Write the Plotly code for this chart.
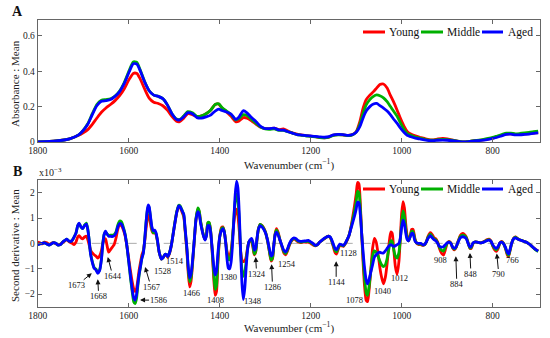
import plotly.graph_objects as go

# ---------------- Panel A data (absorbance, mean) ----------------
wnA = [1800,1760,1730,1710,1700,1690,1680,1670,1660,1650,
       1640,1630,1620,1610,1600,1590,1582,1575,1565,1555,
       1545,1535,1525,1515,1505,1495,1488,1480,1470,1460,
       1450,1440,1430,1420,1410,1402,1395,1385,1375,1365,
       1358,1348,1340,1330,1320,1310,1300,1290,1280,1270,
       1260,1250,1240,1230,1220,1210,1200,1190,1180,1170,
       1160,1150,1140,1130,1120,1110,1100,1092,1085,1078,
       1070,1062,1055,1048,1040,1032,1025,1018,1010,1003,
       995,988,980,970,960,950,940,930,920,910,
       900,890,880,870,860,850,840,830,820,810,
       800,790,780,770,760,750,740,730,720,710,700]

youngA = [0.000,0.006,0.018,0.038,0.052,0.070,0.100,0.135,0.168,0.192,
          0.212,0.234,0.262,0.300,0.350,0.388,0.387,0.358,0.300,0.248,
          0.225,0.218,0.205,0.180,0.145,0.118,0.115,0.132,0.160,0.155,
          0.143,0.148,0.160,0.180,0.212,0.214,0.192,0.170,0.145,0.115,
          0.118,0.138,0.135,0.120,0.100,0.083,0.076,0.076,0.078,0.070,
          0.074,0.062,0.052,0.044,0.040,0.036,0.033,0.030,0.026,0.024,
          0.028,0.039,0.042,0.041,0.037,0.040,0.058,0.115,0.190,0.240,
          0.265,0.285,0.305,0.325,0.328,0.305,0.265,0.228,0.180,0.135,
          0.090,0.060,0.045,0.035,0.027,0.020,0.013,0.012,0.017,0.020,
          0.018,0.012,0.006,0.002,0.001,0.004,0.007,0.009,0.012,0.016,
          0.022,0.030,0.038,0.045,0.046,0.042,0.043,0.045,0.047,0.050,0.053]

middleA = [0.000,0.006,0.018,0.040,0.066,0.103,0.160,0.212,0.236,0.240,
           0.244,0.260,0.288,0.335,0.398,0.453,0.450,0.410,0.342,0.290,
           0.265,0.258,0.245,0.210,0.160,0.130,0.127,0.145,0.172,0.165,
           0.145,0.148,0.160,0.180,0.212,0.216,0.195,0.175,0.155,0.125,
           0.132,0.155,0.150,0.128,0.105,0.085,0.074,0.072,0.075,0.066,
           0.066,0.058,0.050,0.042,0.038,0.034,0.032,0.029,0.025,0.023,
           0.027,0.038,0.041,0.040,0.036,0.039,0.056,0.100,0.160,0.210,
           0.240,0.258,0.266,0.262,0.250,0.228,0.202,0.175,0.145,0.110,
           0.072,0.048,0.038,0.028,0.022,0.016,0.011,0.010,0.013,0.015,
           0.013,0.010,0.006,0.002,0.001,0.004,0.008,0.011,0.015,0.020,
           0.026,0.034,0.042,0.050,0.050,0.046,0.048,0.051,0.054,0.058,0.062]

agedA = [0.000,0.006,0.018,0.040,0.065,0.100,0.155,0.205,0.230,0.234,
         0.240,0.258,0.285,0.330,0.390,0.443,0.440,0.405,0.340,0.290,
         0.265,0.258,0.245,0.210,0.160,0.128,0.125,0.140,0.166,0.160,
         0.138,0.135,0.142,0.152,0.175,0.186,0.178,0.170,0.158,0.128,
         0.140,0.177,0.165,0.138,0.115,0.088,0.076,0.076,0.078,0.068,
         0.067,0.058,0.050,0.042,0.039,0.036,0.034,0.032,0.029,0.027,
         0.030,0.040,0.043,0.042,0.038,0.040,0.055,0.087,0.135,0.175,
         0.200,0.215,0.218,0.206,0.192,0.175,0.155,0.130,0.105,0.080,
         0.055,0.038,0.030,0.022,0.017,0.012,0.008,0.008,0.010,0.011,
         0.010,0.008,0.005,0.001,0.000,0.003,0.006,0.008,0.011,0.015,
         0.020,0.027,0.035,0.043,0.044,0.040,0.041,0.043,0.045,0.049,0.052]

# ---------------- Panel B data (second derivative, x10^-3) ----------------
wnB = [1800,1795,1790,1785,1780,1775,1770,1765,1760,1755,
       1750,1745,1740,1736,1732,1728,1724,1720,1716,1712,
       1709,1705,1701,1697,1693,1690,1687,1684,1680,1676,
       1672,1668,1664,1660,1657,1654,1651,1648,1644,1640,
       1636,1632,1628,1624,1620,1616,1612,1608,1604,1600,
       1596,1592,1589,1586,1583,1580,1577,1574,1571,1568,
       1565,1562,1559,1557,1555,1552,1549,1546,1543,1540,
       1537,1533,1528,1524,1520,1517,1514,1510,1506,1502,
       1498,1494,1490,1487,1483,1479,1476,1472,1469,1466,
       1463,1460,1456,1452,1448,1445,1442,1438,1435,1432,
       1429,1426,1423,1420,1417,1413,1410,1407,1404,1400,
       1396,1393,1390,1387,1384,1381,1378,1375,1372,1369,
       1366,1363,1360,1357,1354,1351,1348,1345,1342,1339,
       1336,1333,1330,1327,1324,1321,1318,1315,1311,1307,
       1303,1299,1295,1291,1287,1284,1281,1278,1275,1271,
       1267,1263,1259,1255,1251,1247,1242,1237,1232,1227,
       1222,1216,1210,1205,1200,1195,1190,1185,1180,1175,
       1170,1165,1161,1157,1154,1150,1146,1143,1140,1136,
       1132,1128,1124,1120,1116,1112,1108,1104,1100,1097,
       1094,1091,1088,1085,1082,1078,1075,1072,1068,1064,
       1060,1056,1052,1048,1044,1040,1036,1032,1028,1024,
       1021,1018,1014,1010,1006,1003,1000,997,994,991,
       988,985,982,978,975,971,967,962,958,954,
       950,946,942,937,933,929,925,921,917,912,
       908,904,900,896,892,888,884,880,876,871,
       866,862,858,854,850,847,843,838,833,828,
       823,818,813,808,804,800,796,792,788,784,
       780,776,772,768,765,762,758,754,750,746,
       742,737,732,727,722,716,710,705,700]

youngB = [0.05,0.02,-0.02,0.05,0.02,-0.04,0.00,0.04,-0.02,-0.06,
          -0.04,0.04,0.10,0.15,0.08,0.03,0.00,-0.05,0.05,0.25,
          0.30,0.22,0.18,0.25,0.28,0.15,-0.05,-0.25,-0.38,-0.45,
          -0.50,-0.58,-0.50,-0.30,0.00,0.15,0.18,-0.05,-0.35,-0.25,
          -0.15,-0.05,0.20,0.55,0.72,0.70,0.55,0.30,-0.10,-0.60,
          -1.10,-1.55,-1.80,-1.90,-1.80,-1.45,-1.05,-0.75,-0.45,-0.30,
          0.05,0.55,1.00,1.12,1.05,0.75,0.50,0.40,0.45,0.35,
          0.10,-0.35,-0.62,-0.55,-0.45,-0.48,-0.55,-0.38,-0.05,0.40,
          0.85,1.25,1.45,1.42,1.25,1.05,0.50,-0.35,-1.20,-1.72,
          -1.50,-0.90,0.05,0.95,1.35,1.25,0.85,0.50,0.28,0.15,
          0.35,0.80,0.80,0.50,-0.20,-1.40,-2.05,-1.90,-0.80,0.25,
          0.62,0.65,0.48,0.10,-0.30,-0.48,-0.50,-0.30,0.20,0.80,
          1.20,1.35,1.10,0.50,-0.30,-0.65,-0.72,-0.70,-0.55,-0.20,
          0.05,0.10,0.05,-0.15,-0.45,-0.35,0.15,0.55,0.75,0.70,
          0.60,0.42,0.10,-0.30,-0.70,-0.62,-0.10,0.40,0.58,0.40,
          0.10,-0.15,-0.38,-0.45,-0.30,-0.08,0.10,0.18,0.12,0.05,
          0.03,0.05,0.04,0.05,0.00,-0.06,-0.10,-0.05,0.05,0.12,
          0.18,0.25,0.28,0.22,0.10,-0.15,-0.38,-0.42,-0.25,-0.08,
          -0.10,-0.12,-0.02,0.12,0.30,0.60,1.00,1.45,1.95,2.40,
          2.35,1.60,0.40,-0.70,-1.60,-2.25,-2.30,-1.90,-1.10,-0.20,
          0.20,0.05,-0.40,-0.95,-1.35,-1.60,-1.35,-0.80,-0.05,0.45,
          0.40,-0.10,-0.90,-1.22,-0.70,0.20,1.20,1.65,1.40,0.75,
          0.30,0.10,0.25,0.55,0.55,0.20,0.00,-0.05,-0.05,-0.08,
          -0.06,0.05,0.28,0.42,0.35,0.22,0.18,0.05,-0.20,-0.40,
          -0.46,-0.25,0.00,0.08,0.02,-0.18,-0.26,-0.15,0.08,0.32,
          0.39,0.35,0.25,0.02,-0.20,-0.20,0.00,0.06,0.04,0.02,
          0.04,0.08,0.14,0.17,0.10,-0.10,-0.25,-0.32,-0.20,0.02,
          0.08,0.00,-0.20,-0.45,-0.52,-0.30,0.02,0.20,0.25,0.20,
          0.15,0.12,0.08,0.05,0.00,-0.08,-0.18,-0.25,-0.30]

middleB = [-0.05,-0.02,0.00,0.02,-0.03,-0.07,-0.02,0.03,0.00,-0.07,
           -0.05,0.05,0.12,0.17,0.10,0.07,0.12,0.25,0.40,0.70,
           0.78,0.65,0.58,0.72,0.80,0.58,0.15,-0.38,-0.72,-0.95,
           -1.02,-1.15,-1.05,-0.62,-0.02,0.35,0.45,0.38,0.32,0.32,
           0.32,0.35,0.45,0.72,0.88,0.85,0.65,0.38,-0.10,-0.72,
           -1.38,-1.95,-2.30,-2.38,-2.20,-1.70,-1.25,-0.92,-0.58,-0.38,
           0.10,0.80,1.30,1.45,1.40,1.00,0.58,0.42,0.45,0.38,
           0.12,-0.35,-0.62,-0.55,-0.43,-0.45,-0.52,-0.35,-0.05,0.42,
           0.88,1.28,1.50,1.48,1.32,1.12,0.55,-0.25,-1.05,-1.52,
           -1.35,-0.82,0.10,1.00,1.40,1.28,0.88,0.50,0.28,0.15,
           0.35,0.82,0.82,0.52,-0.15,-1.20,-1.82,-1.65,-0.65,0.25,
           0.58,0.62,0.48,0.08,-0.40,-0.62,-0.65,-0.45,0.15,0.95,
           1.65,1.95,1.70,0.90,-0.30,-1.05,-1.30,-1.15,-0.75,-0.25,
           0.05,0.12,0.12,-0.08,-0.42,-0.32,0.15,0.55,0.75,0.70,
           0.58,0.42,0.12,-0.28,-0.66,-0.58,-0.08,0.38,0.52,0.36,
           0.10,-0.12,-0.33,-0.40,-0.26,-0.05,0.12,0.20,0.15,0.08,
           0.05,0.07,0.07,0.08,0.03,-0.03,-0.09,-0.05,0.05,0.12,
           0.19,0.25,0.28,0.24,0.12,-0.10,-0.30,-0.33,-0.20,-0.05,
           -0.08,-0.10,-0.01,0.14,0.30,0.58,0.90,1.25,1.65,2.05,
           2.00,1.40,0.40,-0.50,-1.30,-1.95,-2.05,-1.75,-1.10,-0.50,
           -0.30,-0.35,-0.50,-0.70,-0.85,-0.92,-0.85,-0.60,-0.20,0.10,
           0.08,-0.20,-0.50,-0.58,-0.35,0.15,0.85,1.28,1.05,0.55,
           0.22,0.10,0.24,0.48,0.46,0.15,0.01,-0.03,-0.03,-0.06,
           -0.06,0.05,0.24,0.36,0.28,0.18,0.14,0.02,-0.16,-0.28,
           -0.30,-0.15,0.01,0.06,0.01,-0.16,-0.23,-0.14,0.06,0.27,
           0.32,0.30,0.22,0.01,-0.18,-0.16,0.01,0.06,0.04,0.02,
           0.03,0.07,0.12,0.15,0.09,-0.08,-0.20,-0.26,-0.16,0.02,
           0.06,-0.01,-0.18,-0.40,-0.47,-0.28,0.02,0.19,0.24,0.19,
           0.15,0.12,0.08,0.05,0.00,-0.08,-0.18,-0.27,-0.32]

agedB = [-0.05,-0.02,0.00,0.02,-0.03,-0.07,-0.02,0.03,0.00,-0.07,
         -0.05,0.05,0.12,0.17,0.10,0.07,0.12,0.25,0.40,0.70,
         0.80,0.65,0.58,0.70,0.76,0.55,0.15,-0.40,-0.75,-0.98,
         -1.05,-1.18,-1.08,-0.65,-0.05,0.35,0.48,0.38,0.28,0.28,
         0.27,0.30,0.40,0.65,0.78,0.76,0.60,0.35,-0.10,-0.70,
         -1.30,-1.85,-2.15,-2.24,-2.05,-1.60,-1.20,-0.90,-0.60,-0.40,
         0.10,0.80,1.35,1.52,1.45,1.05,0.65,0.50,0.52,0.42,
         0.15,-0.35,-0.62,-0.55,-0.43,-0.45,-0.52,-0.35,-0.05,0.40,
         0.85,1.25,1.48,1.45,1.30,1.15,0.60,-0.20,-0.95,-1.37,
         -1.20,-0.75,0.10,0.95,1.25,1.15,0.80,0.45,0.25,0.13,
         0.30,0.70,0.70,0.45,-0.10,-0.90,-1.25,-1.10,-0.40,0.25,
         0.50,0.58,0.45,0.05,-0.60,-0.98,-1.00,-0.75,-0.10,0.90,
         1.90,2.45,2.20,1.20,-0.30,-1.60,-2.22,-1.80,-1.00,-0.30,
         0.05,0.15,0.20,0.05,-0.27,-0.20,0.20,0.55,0.70,0.65,
         0.55,0.40,0.15,-0.20,-0.50,-0.45,-0.05,0.35,0.44,0.30,
         0.10,-0.10,-0.28,-0.34,-0.22,-0.02,0.15,0.22,0.18,0.10,
         0.08,0.09,0.10,0.12,0.06,0.00,-0.08,-0.05,0.05,0.13,
         0.20,0.25,0.28,0.25,0.15,-0.05,-0.22,-0.25,-0.15,-0.03,
         -0.05,-0.08,0.00,0.15,0.30,0.55,0.80,1.05,1.35,1.62,
         1.60,1.15,0.40,-0.30,-0.90,-1.45,-1.60,-1.45,-1.15,-0.85,
         -0.55,-0.45,-0.38,-0.35,-0.38,-0.38,-0.30,-0.20,-0.10,-0.05,
         -0.08,-0.12,-0.10,-0.05,0.00,0.20,0.65,0.92,0.75,0.40,
         0.15,0.10,0.22,0.40,0.38,0.10,0.02,0.00,0.00,-0.05,
         -0.05,0.05,0.20,0.30,0.22,0.15,0.10,0.00,-0.12,-0.15,
         -0.13,-0.05,0.02,0.05,0.00,-0.15,-0.20,-0.12,0.05,0.22,
         0.26,0.24,0.18,0.00,-0.15,-0.12,0.02,0.06,0.04,0.02,
         0.03,0.06,0.10,0.13,0.08,-0.05,-0.15,-0.20,-0.12,0.02,
         0.05,-0.02,-0.15,-0.35,-0.42,-0.25,0.02,0.18,0.22,0.18,
         0.14,0.12,0.08,0.05,0.00,-0.08,-0.18,-0.25,-0.30]

series_names = ["Young", "Middle", "Aged"]
series_colors = ["#ff0000", "#00b000", "#0000ff"]

# peak labels in panel B: (label, text x, text y)
plain_labels = [("1528", 1526, -1.08), ("1514", 1498, -0.70), ("1466", 1463, -1.97),
                ("1408", 1410, -2.24), ("1380", 1381, -1.32), ("1348", 1329, -2.27),
                ("1254", 1253, -0.80), ("1128", 1118, -0.40), ("1078", 1103, -2.22),
                ("1040", 1042, -1.88), ("1012", 1005, -1.35), ("908", 915, -0.67),
                ("766", 756, -0.67)]
# arrow labels: (label, arrow head x, arrow head y, text offset px x, y)
arrow_labels = [("1673", 1681, -1.18, -15, 12), ("1668", 1668, -1.42, 1, 17),
                ("1644", 1646, -0.54, 5, 19), ("1586", 1575, -2.24, 18, 0),
                ("1567", 1564, -0.93, 6, 20), ("1324", 1321, -0.54, 1, 17),
                ("1286", 1286, -0.82, 1, 23), ("1144", 1144, -0.71, 0, 21),
                ("884", 881, -0.51, 1, 28), ("848", 850, -0.38, 1, 21),
                ("790", 791, -0.40, 2, 21)]

FONT = "Liberation Serif"
W, H = 550, 338
LW = 2.8

fig = go.Figure()
for name, col, yA in zip(series_names, series_colors, [youngA, middleA, agedA]):
    fig.add_trace(go.Scatter(x=wnA, y=yA, mode="lines", name=name,
                             line=dict(color=col, width=LW, shape="spline", smoothing=0.6),
                             xaxis="x", yaxis="y", showlegend=False))
for name, col, yB in zip(series_names, series_colors, [youngB, middleB, agedB]):
    fig.add_trace(go.Scatter(x=wnB, y=yB, mode="lines", name=name,
                             line=dict(color=col, width=LW, shape="spline", smoothing=0.6),
                             xaxis="x2", yaxis="y2", showlegend=False))

def px_x(p):
    return p / W

def px_y(p):
    return (H - p) / H

dom_x = [px_x(37.7), px_x(540)]
axis_common = dict(showline=True, linecolor="#666", linewidth=1, mirror="ticks",
                   ticks="inside", ticklen=4, tickcolor="#666", showgrid=False,
                   zeroline=False, automargin=False,
                   tickfont=dict(family=FONT, size=9.5, color="#222"))

fig.update_layout(
    template="none",
    width=W, height=H, margin=dict(l=0, r=0, t=0, b=0, pad=0, autoexpand=False),
    paper_bgcolor="white", plot_bgcolor="white", showlegend=False,
    xaxis=dict(domain=dom_x, anchor="y", range=[1800, 696],
               tickvals=[1800, 1600, 1400, 1200, 1000, 800], **axis_common),
    yaxis=dict(domain=[px_y(142), px_y(20)], anchor="x", range=[0, 0.69],
               tickvals=[0, 0.2, 0.4, 0.6], ticktext=["0", "0.2", "0.4", "0.6"], **axis_common),
    xaxis2=dict(domain=dom_x, anchor="y2", range=[1800, 696],
                tickvals=[1800, 1600, 1400, 1200, 1000, 800], **axis_common),
    yaxis2=dict(domain=[px_y(306.7), px_y(180)], anchor="x2", range=[-2.5, 2.5],
                tickvals=[-2, -1, 0, 1, 2], ticktext=["−2", "−1", "0", "1", "2"], **axis_common),
)

shapes = [dict(type="line", xref="x2", yref="y2", x0=1800, x1=696, y0=0, y1=0,
               line=dict(color="#aaaaaa", width=1, dash="dash"), layer="below")]
annots = []

def paper_text(x, y, text, size, xanchor="center", angle=0, color="#222"):
    return dict(xref="paper", yref="paper", x=px_x(x), y=px_y(y), text=text,
                showarrow=False, xanchor=xanchor, yanchor="middle", textangle=angle,
                font=dict(family=FONT, size=size, color=color))

# manual legends
leg_lines = [(363, 385, 387), (421, 443, 445), (482, 503, 506)]
for ly in (32, 189):
    for (x0, x1, tx), name, col in zip(leg_lines, series_names, series_colors):
        shapes.append(dict(type="line", xref="paper", yref="paper",
                           x0=px_x(x0), x1=px_x(x1), y0=px_y(ly), y1=px_y(ly),
                           line=dict(color=col, width=3)))
        annots.append(paper_text(tx, ly, name, 11.5, xanchor="left", color="#111"))

# panel letters, axis titles
annots += [
    paper_text(17, 12, "<b>A</b>", 14, color="#111"),
    paper_text(17, 172, "<b>B</b>", 14, color="#111"),
    paper_text(37, 172, "x10<sup>−3</sup>", 10, xanchor="left"),
    paper_text(15, 84, "Absorbance : Mean", 11, angle=-90),
    paper_text(15, 246, "Second derivative : Mean", 11, angle=-90),
    paper_text(289, 164, "Wavenumber (cm<sup>−1</sup>)", 11),
    paper_text(289, 327, "Wavenumber (cm<sup>−1</sup>)", 11),
]

for lab, x, y in plain_labels:
    annots.append(dict(xref="x2", yref="y2", x=x, y=y, text=lab, showarrow=False,
                       xanchor="center", yanchor="middle",
                       font=dict(family=FONT, size=8.5, color="#111")))
for lab, x, y, ax, ay in arrow_labels:
    annots.append(dict(xref="x2", yref="y2", x=x, y=y, text=lab, showarrow=True,
                       ax=ax, ay=ay, arrowhead=2, arrowsize=1, arrowwidth=1,
                       arrowcolor="#111", borderpad=0,
                       font=dict(family=FONT, size=8.5, color="#111")))

fig.update_layout(shapes=shapes, annotations=annots)
fig.write_html("out.html", config={"displayModeBar": False},
               post_script="document.body.style.margin='0px';")
